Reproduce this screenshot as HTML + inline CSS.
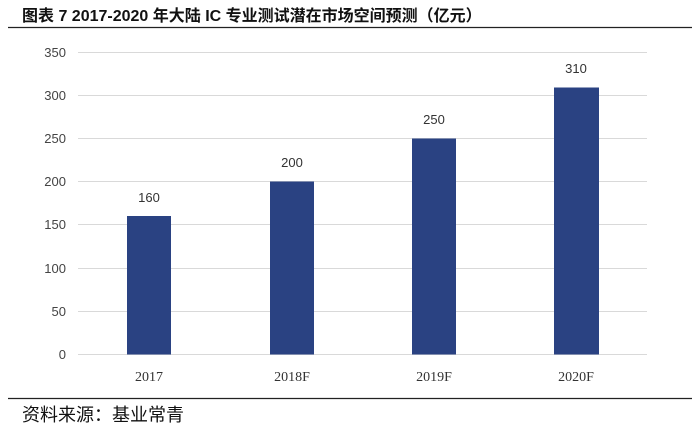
<!DOCTYPE html>
<html><head><meta charset="utf-8"><style>
body{margin:0;background:#fff;width:700px;height:428px;overflow:hidden}
svg{display:block}
</style></head><body>
<svg width="700" height="428" xmlns="http://www.w3.org/2000/svg">
<text x="22" y="21" font-family="'Liberation Sans','Noto Sans CJK SC',sans-serif" font-size="16" font-weight="bold" fill="#111">图表 7  2017-2020 年大陆 IC 专业测试潜在市场空间预测（亿元）</text>
<line x1="8" y1="27.5" x2="692" y2="27.5" stroke="#222" stroke-width="1.2"/>
<g stroke="#d9d9d9" stroke-width="1">
<line x1="78" y1="52.5" x2="647" y2="52.5"/>
<line x1="78" y1="95.5" x2="647" y2="95.5"/>
<line x1="78" y1="138.5" x2="647" y2="138.5"/>
<line x1="78" y1="181.5" x2="647" y2="181.5"/>
<line x1="78" y1="224.5" x2="647" y2="224.5"/>
<line x1="78" y1="268.5" x2="647" y2="268.5"/>
<line x1="78" y1="311.5" x2="647" y2="311.5"/>
<line x1="78" y1="354.5" x2="647" y2="354.5"/>
</g>
<g font-family="'Liberation Sans',sans-serif" font-size="13" fill="#444" text-anchor="end">
<text x="66" y="57">350</text><text x="66" y="100">300</text><text x="66" y="143">250</text><text x="66" y="186">200</text>
<text x="66" y="229">150</text><text x="66" y="273">100</text><text x="66" y="316">50</text><text x="66" y="359">0</text>
</g>
<g fill="#2a4282">
<rect x="127" y="216" width="44" height="138.5"/>
<rect x="270" y="181.5" width="44" height="173"/>
<rect x="412" y="138.5" width="44" height="216"/>
<rect x="554" y="87.5" width="45" height="267"/>
</g>
<g font-family="'Liberation Sans',sans-serif" font-size="13" fill="#333" text-anchor="middle">
<text x="149" y="202">160</text><text x="292" y="167">200</text><text x="434" y="124">250</text><text x="576" y="73">310</text>
</g>
<g font-family="'Liberation Serif',serif" font-size="14" fill="#333" text-anchor="middle">
<text x="149" y="381">2017</text><text x="292" y="381">2018F</text><text x="434" y="381">2019F</text><text x="576" y="381">2020F</text>
</g>
<line x1="8" y1="398.5" x2="692" y2="398.5" stroke="#222" stroke-width="1.2"/>
<text x="22" y="421" font-family="'Noto Sans CJK SC',sans-serif" font-size="18" fill="#111">资料来源：基业常青</text>
</svg>
</body></html>
